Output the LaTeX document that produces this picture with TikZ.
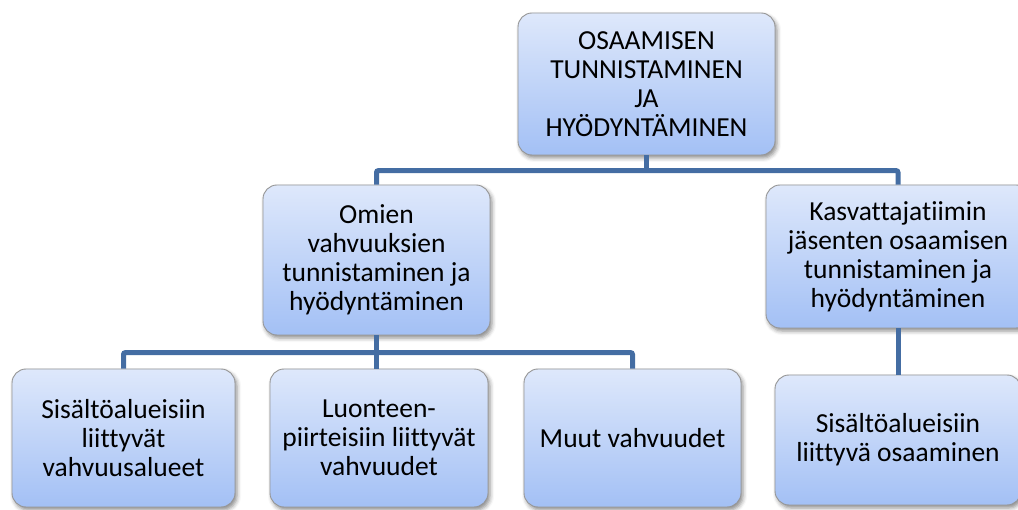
\documentclass[tikz,border=0pt]{standalone}
\usepackage{fontspec}
\setmainfont{Carlito}[Ligatures=NoCommon]
\usetikzlibrary{shadows.blur}

\definecolor{boxtop}{RGB}{222,232,251}
\definecolor{boxbot}{RGB}{163,192,245}
\definecolor{boxline}{RGB}{150,150,150}
\definecolor{linkblue}{RGB}{68,109,163}

\tikzset{
  card/.style={draw=boxline, line width=0.9pt, rounded corners=14pt,
    top color=boxtop, bottom color=boxbot, align=center, inner sep=0pt,
    font=\fontsize{27.5}{29}\selectfont,
    blur shadow={shadow xshift=2pt, shadow yshift=-3pt,
      shadow blur radius=4pt, shadow opacity=45}},
  link/.style={draw=linkblue, line width=5pt, rounded corners=2pt}
}

\begin{document}
\begin{tikzpicture}[x=1pt, y=-1pt]
  \useasboundingbox (0,0) rectangle (1018,510);

  % root
  \node[card, minimum width=257pt, minimum height=142pt] (top) at (646.5,84)
    {OSAAMISEN\\TUNNISTAMINEN\\JA\\HYÖDYNTÄMINEN};

  % second level
  \node[card, minimum width=227pt, minimum height=150pt] (omien) at (376.5,260)
    {Omien\\vahvuuksien\\tunnistaminen ja\\hyödyntäminen};
  \node[card, minimum width=264pt, minimum height=143pt] (kasv) at (898,256.5)
    {Kasvattajatiimin\\jäsenten osaamisen\\tunnistaminen ja\\hyödyntäminen};

  % third level
  \node[card, minimum width=223pt, minimum height=138pt] (b1) at (123.5,438)
    {Sisältöalueisiin\\liittyvät\\vahvuusalueet};
  \node[card, minimum width=218pt, minimum height=138pt] (b2) at (379,438)
    {Luonteen-\\piirteisiin liittyvät\\vahvuudet};
  \node[card, minimum width=217pt, minimum height=138pt] (b3) at (632.5,438)
    {Muut vahvuudet};
  \node[card, minimum width=246pt, minimum height=130pt] (b4) at (898,440)
    {Sisältöalueisiin\\liittyvä osaaminen};

  % connectors
  \draw[link] (top.south) -- ++(0,16);
  \draw[link] (omien.north) -- ++(0,-14) -| (kasv.north);
  \draw[link] (omien.south) -- (omien.south |- b2.north);
  \draw[link] (b1.north) -- ++(0,-16) -| (b3.north);
  \draw[link] (kasv.south) -- (b4.north);
\end{tikzpicture}
\end{document}
